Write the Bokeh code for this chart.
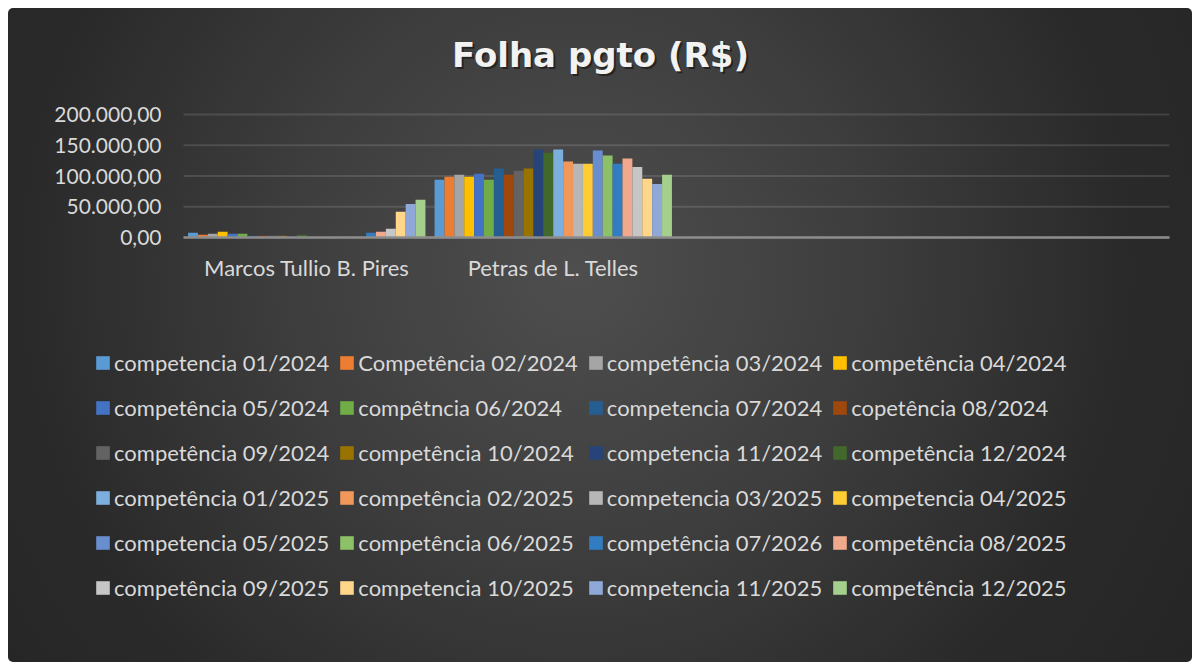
from bokeh.plotting import figure
from bokeh.models import (ColumnDataSource, Range1d, FixedTicker, Legend, LegendItem, Label)
from bokeh.transform import dodge
from bokeh.embed import file_html
from bokeh.resources import INLINE

# ---------------- data ----------------
categories = ["Marcos Tullio B. Pires", "Petras de L. Telles", "", ""]
people = ["Marcos Tullio B. Pires", "Petras de L. Telles"]

series_names = [
    "competencia 01/2024", "Competência 02/2024", "competência 03/2024", "competência 04/2024",
    "competência 05/2024", "compêtncia 06/2024", "competencia 07/2024", "copetência 08/2024",
    "competência 09/2024", "competência 10/2024", "competencia 11/2024", "competência 12/2024",
    "competência 01/2025", "competência 02/2025", "competencia 03/2025", "competencia 04/2025",
    "competencia 05/2025", "competência 06/2025", "competência 07/2026", "competência 08/2025",
    "competência 09/2025", "competencia 10/2025", "competencia 11/2025", "competência 12/2025",
]

marcos_values = [7600, 4400, 6000, 9200, 6000, 6000, 2700, 2700, 2700, 2700, 1600, 4400,
                 0, 0, 0, 0, 0, 0, 7600, 9200, 14100, 41800, 54300, 61400]
petras_values = [94000, 98900, 102200, 98900, 103800, 94000, 112000, 102200, 108700, 112000,
                 142900, 138000, 142900, 123400, 120100, 120100, 141300, 133200, 120100, 128300,
                 114700, 95700, 87000, 102200]

series_colors = [
    "#5b9bd5", "#ed7d31", "#a5a5a5", "#ffc000", "#4472c4", "#70ad47",
    "#255e91", "#9e480e", "#636363", "#997300", "#264478", "#43682b",
    "#7cafdd", "#f1975a", "#b7b7b7", "#ffcd33", "#698ed0", "#8cc168",
    "#327dc2", "#f0a98c", "#c6c6c6", "#ffd68a", "#8fa8d8", "#a5cf8c",
]

y_ticks = [0, 50000, 100000, 150000, 200000]
y_tick_labels = ["0,00", "50.000,00", "100.000,00", "150.000,00", "200.000,00"]

title_text = "Folha pgto (R$)"

# ---------------- layout constants (page pixels) ----------------
W, H = 1184, 654          # figure size, placed at (8, 8)
PX_LEFT, PX_RIGHT = 183, 1169   # category axis extent on the page
PX_ZERO, PX_TOP = 237, 114      # y = 0 and y = 200000 on the page
ncat = len(categories)
cat_px = (PX_RIGHT - PX_LEFT) / ncat
unit_px = (PX_ZERO - PX_TOP) / y_ticks[-1]

x_start = (8 - PX_LEFT) / cat_px
x_end = ncat + (8 + W - PX_RIGHT) / cat_px
y_start = -(8 + H - PX_ZERO) / unit_px
y_end = (PX_ZERO - 8) / unit_px

p = figure(width=W, height=H, output_backend="svg", toolbar_location=None,
           x_range=Range1d(x_start, x_end), y_range=Range1d(y_start, y_end),
           min_border=0)
p.margin = (8, 0, 0, 8)
try:
    p.title = None
except Exception:
    p.title.text = ""
    p.title.text_font_size = "0px"
    p.title.standoff = 0

p.border_fill_color = None
p.background_fill_color = None
p.outline_line_color = None
p.styles = {
    "background": "radial-gradient(circle at 48% 40%, #4e4e4e 0%, #3e3e3e 38%, #2a2a2a 75%, #252525 100%)",
    "border-radius": "5px",
}
p.xgrid.grid_line_color = None
p.ygrid.grid_line_color = None

# gridlines, bounded to the category extent
p.segment(x0=0, x1=ncat, y0=y_ticks, y1=y_ticks, line_color="white", line_alpha=0.12,
          line_width=2, level="underlay")

# bars
centers = [i + 0.5 for i in range(len(people))]
group = 0.963
bw = group / len(series_names)
items = []
for j, name in enumerate(series_names):
    src = ColumnDataSource(dict(xc=centers, val=[marcos_values[j], petras_values[j]]))
    off = -group / 2 + (j + 0.5) * bw
    r = p.vbar(x=dodge("xc", off), top="val", width=bw * 0.999,
               source=src, fill_color=series_colors[j], line_color=None)
    items.append(LegendItem(label=name, renderers=[r]))

# y axis (fixed at the left edge of the categories)
p.yaxis.fixed_location = 0
p.yaxis.ticker = FixedTicker(ticks=y_ticks)
p.yaxis.major_label_overrides = {t: l for t, l in zip(y_ticks, y_tick_labels)}
p.yaxis.axis_line_color = None
p.yaxis.major_tick_line_color = None
p.yaxis.minor_tick_line_color = None
p.yaxis.major_label_standoff = 16
p.yaxis.major_label_text_font = "Lato"
p.yaxis.major_label_text_font_size = "21px"
p.yaxis.major_label_text_color = "#d9d9d9"

# x axis (fixed at y = 0)
cat_ticks = [i + 0.5 for i in range(ncat)]
p.xaxis.fixed_location = 0
p.xaxis.bounds = (0, ncat)
p.xaxis.ticker = FixedTicker(ticks=cat_ticks)
p.xaxis.major_label_overrides = {t: c for t, c in zip(cat_ticks, categories)}
p.xaxis.axis_line_color = "#8c8c8c"
p.xaxis.axis_line_width = 2.5
p.xaxis.major_tick_line_color = None
p.xaxis.minor_tick_line_color = None
p.xaxis.major_label_standoff = 10
p.xaxis.major_label_text_font = "Lato"
p.xaxis.major_label_text_font_size = "22px"
p.xaxis.major_label_text_color = "#d9d9d9"

# title (with soft shadow)
for dx, dy, col, alpha in [(2, -2, "black", 0.45), (0, 0, "#f2f2f2", 1.0)]:
    p.add_layout(Label(x=592 + dx, y=608 + dy, x_units="screen", y_units="screen",
                       text=title_text, text_align="center", text_baseline="alphabetic",
                       text_font="DejaVu Sans", text_font_style="bold",
                       text_font_size="34px", text_color=col, text_alpha=alpha))

legend = Legend(items=items, location=(86, 57), orientation="horizontal", ncols=4,
                glyph_width=17, glyph_height=17, label_standoff=3, spacing=9,
                label_height=36, padding=0, margin=0,
                border_line_color=None, background_fill_alpha=0,
                label_text_font="Lato", label_text_font_size="22px",
                label_text_color="#d9d9d9")
p.add_layout(legend)

open("out.html", "w").write(file_html(p, INLINE))
